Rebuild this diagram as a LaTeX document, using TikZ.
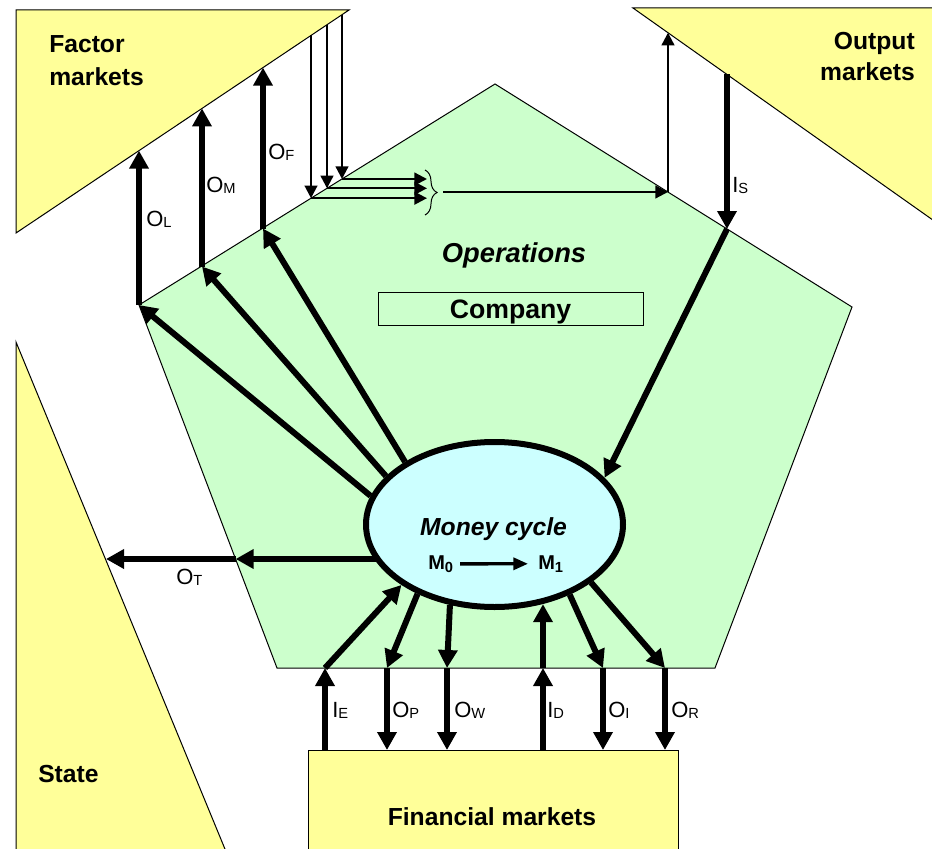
\documentclass[tikz,border=0pt]{standalone}
\usepackage{fontspec}
\setmainfont{Liberation Sans}
\usetikzlibrary{arrows.meta,shapes.geometric,decorations.pathreplacing}
\pgfdeclarelayer{back}
\pgfdeclarelayer{flow}
\pgfsetlayers{back,flow,main}
\definecolor{mktyellow}{RGB}{255,255,153}
\definecolor{opgreen}{RGB}{204,255,204}
\definecolor{cashcyan}{RGB}{204,255,255}
% flow label: letter with a small subscript
\newcommand\flowlbl[2]{#1\raisebox{-0.8pt}{\fontsize{11}{12}\selectfont #2}}
\newcommand\msub[1]{M\raisebox{-2.5pt}{\fontsize{11}{12}\selectfont #1}}
\begin{document}
\begin{tikzpicture}[x=0.75pt,y=-0.75pt,
  market/.style={fill=mktyellow,draw=black,line width=0.75pt},
  thk/.style={line width=4.5pt,-{Triangle[length=13.5pt,width=14pt]}},
  thn/.style={line width=1.7pt,-{Triangle[length=9.5pt,width=9.5pt]}},
  flowtxt/.style={font=\fontsize{16.5}{19}\selectfont,inner sep=0pt,anchor=base west},
  bigtxt/.style={font=\fontsize{18.5}{22}\selectfont\bfseries,inner sep=0pt},
]
\useasboundingbox (0,0) rectangle (932,849);
\clip (0,0) rectangle (932,849);

% ---------------- markets and the company ----------------
\begin{pgfonlayer}{back}
  \fill[white] (0,0) rectangle (932,849);
  % factor markets
  \draw[market] (16,10) -- (349,10) -- (16,233) -- cycle;
  % output markets
  \draw[market] (633,8) -- (945,8) -- (945,228.6) -- cycle;
  % state
  \draw[market] (16,342) -- (229.5,860) -- (16,860) -- cycle;
  % financial markets
  \draw[market] (308,750) rectangle (678,870);
  % operations (company)
  \draw[fill=opgreen,draw=black,line width=0.75pt]
    (495,84) -- (852,307) -- (715,668) -- (277,668) -- (139,305) -- cycle;
  \node[draw=black,line width=0.75pt,minimum width=198.75pt,minimum height=24.75pt,inner sep=0pt]
    (cobox) at (510.5,308.5) {};
\end{pgfonlayer}

% ---------------- money cycle ----------------
\node[ellipse,draw=black,fill=cashcyan,line width=4.5pt,inner sep=0pt,
      minimum width=192.75pt,minimum height=123.75pt] (mc) at (494.5,524.5) {};
\node[font=\fontsize{18.5}{22}\selectfont\bfseries\itshape,anchor=base,inner sep=0pt]
  (mct) at (493.5,535) {Money cycle};
\node[font=\fontsize{15}{18}\selectfont\bfseries,anchor=base west,inner sep=0pt]
  (m0) at (428,569) {\msub{0}};
\node[font=\fontsize{15}{18}\selectfont\bfseries,anchor=base west,inner sep=0pt]
  (m1) at (538,569) {\msub{1}};
\draw[line width=2.5pt,-{Triangle[length=11pt,width=9pt]}]
  ([xshift=5pt]m0.east) -- ([xshift=-7.5pt]m1.west);

% ---------------- points on the borders ----------------
\coordinate (bL) at (139,305);   \coordinate (tL) at (139,150.6);
\coordinate (bM) at (202,266.5); \coordinate (tM) at (202,108.4);
\coordinate (bF) at (263,228.5); \coordinate (tF) at (263,67.6);
\coordinate (d1t) at (311,35.4); \coordinate (d1b) at (311,198.2);
\coordinate (d2t) at (327,24.7); \coordinate (d2b) at (327,188.3);
\coordinate (d3t) at (342,14.7); \coordinate (d3b) at (342,179);
\coordinate (h1) at (427,198.2); \coordinate (h2) at (427,188.3); \coordinate (h3) at (427,179);
\coordinate (bc) at (443,192);
\coordinate (oB) at (668,192);   \coordinate (oT) at (668,32.7);
\coordinate (iSt) at (727,74.5); \coordinate (iSb) at (727,229);
\coordinate (pe) at (235.6,559); \coordinate (se) at (106,559);
\coordinate (ieT) at (325,668);  \coordinate (ieB) at (325,750);
\coordinate (opT) at (387,668);  \coordinate (opB) at (387,750);
\coordinate (owT) at (447,668);  \coordinate (owB) at (447,750);
\coordinate (idT) at (543,668);  \coordinate (idB) at (543,750);
\coordinate (oiT) at (603,668);  \coordinate (oiB) at (603,750);
\coordinate (orT) at (665,668);  \coordinate (orB) at (665,750);

% ---------------- flows ----------------
\begin{pgfonlayer}{flow}
  % payments to factor markets
  \draw[thk] (mc.167.7) -- (bL);
  \draw[thk] (mc.156.9) -- (bM);
  \draw[thk] (mc.145.1) -- (bF);
  \draw[thk] (bL) -- (tL);
  \draw[thk] (bM) -- (tM);
  \draw[thk] (bF) -- (tF);
  % factors into operations and goods out to output markets
  \draw[thn] (d1t) -- (d1b);
  \draw[thn] (d2t) -- (d2b);
  \draw[thn] (d3t) -- (d3b);
  \draw[thn] (d1b) -- (h1);
  \draw[thn] (d2b) -- (h2);
  \draw[thn] (d3b) -- (h3);
  \draw[line width=0.75pt,decorate,decoration={brace,amplitude=9pt}] (425,170) -- (425,215);
  \draw[thn] (bc) -- (oB);
  \draw[thn] (oB) -- (oT);
  % sales revenue
  \draw[thk] (iSt) -- (iSb);
  \draw[thk] (iSb) -- (mc.23.6);
  % taxes
  \draw[thk] (mc.center |- pe) -- (pe);
  \draw[thk] (pe) -- (se);
  % financial flows
  \draw[thk] (ieB) -- (ieT);
  \draw[thk] (ieT) -- (mc.213.3);
  \draw[thk] (mc.222.8) -- (opT);
  \draw[thk] (opT) -- (opB);
  \draw[thk] (mc.241.4) -- (owT);
  \draw[thk] (owT) -- (owB);
  \draw[thk] (idB) -- (idT);
  \draw[thk] (idT) -- (idT |- mc.301.4);
  \draw[thk] (mc.317.6) -- (oiT);
  \draw[thk] (oiT) -- (oiB);
  \draw[thk] (mc.329.7) -- (orT);
  \draw[thk] (orT) -- (orB);
\end{pgfonlayer}

% ---------------- labels ----------------
\node[bigtxt,anchor=base west] (fm1) at (49,53) {Factor};
\node[bigtxt,anchor=base west] (fm2) at (49,85) {markets};
\node[bigtxt,anchor=base east] (om1) at (915,50) {Output};
\node[bigtxt,anchor=base east] (om2) at (915,80) {markets};
\node[bigtxt,anchor=base west] (st) at (38,782) {State};
\node[bigtxt,anchor=base] (fin) at (492,825) {Financial markets};
\node[font=\fontsize{20.5}{24}\selectfont\bfseries\itshape,anchor=base,inner sep=0pt]
  (ops) at (514,262) {Operations};
\node[font=\fontsize{20}{24}\selectfont\bfseries,anchor=base,inner sep=0pt]
  (co) at (510.5,318) {Company};

\node[flowtxt] (lOL) at (146,226) {\flowlbl{O}{L}};
\node[flowtxt] (lOM) at (206,192) {\flowlbl{O}{M}};
\node[flowtxt] (lOF) at (268,159) {\flowlbl{O}{F}};
\node[flowtxt] (lIS) at (732,192) {\flowlbl{I}{S}};
\node[flowtxt] (lOT) at (176,584) {\flowlbl{O}{T}};
\node[flowtxt] (lIE) at (332,717) {\flowlbl{I}{E}};
\node[flowtxt] (lOP) at (392,717) {\flowlbl{O}{P}};
\node[flowtxt] (lOW) at (454,717) {\flowlbl{O}{W}};
\node[flowtxt] (lID) at (547,717) {\flowlbl{I}{D}};
\node[flowtxt] (lOI) at (608,717) {\flowlbl{O}{I}};
\node[flowtxt] (lOR) at (671,717) {\flowlbl{O}{R}};
\end{tikzpicture}
\end{document}
